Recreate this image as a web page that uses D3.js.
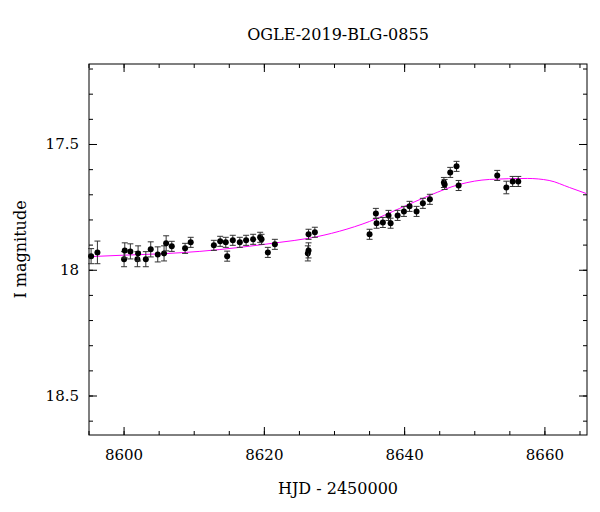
<!DOCTYPE html>
<html><head><meta charset="utf-8">
<script src="https://cdn.jsdelivr.net/npm/d3@7"></script>
<style>body{margin:0;background:#fff}text{font-family:"DejaVu Serif",serif}</style>
</head><body><div id="graph"></div>
<script>
//Observations
const hjd = [8595.3,8596.2,8600.0,8600.1,8600.9,8601.9,8602.0,8603.1,8603.8,8604.8,8605.7,8606.0,8606.8,8608.7,8609.5,8612.8,8613.7,8614.7,8614.5,8615.5,8616.5,8617.4,8618.4,8619.4,8620.5,8619.6,8621.5,8626.2,8626.3,8626.3,8627.2,8635.0,8635.9,8636.0,8636.9,8637.7,8638.0,8639.0,8639.9,8640.7,8641.7,8642.6,8643.6,8645.6,8645.7,8646.5,8647.4,8647.7,8653.2,8654.5,8655.4,8656.2];
const mag = [17.944,17.929,17.956,17.921,17.925,17.956,17.933,17.956,17.917,17.937,17.933,17.893,17.905,17.913,17.889,17.901,17.885,17.944,17.889,17.881,17.889,17.881,17.877,17.869,17.929,17.877,17.897,17.933,17.921,17.857,17.849,17.857,17.774,17.813,17.810,17.782,17.813,17.782,17.766,17.746,17.766,17.734,17.718,17.651,17.659,17.611,17.587,17.663,17.623,17.671,17.647,17.647];
const err = [0.03,0.045,0.03,0.03,0.03,0.03,0.03,0.03,0.03,0.03,0.03,0.03,0.02,0.02,0.02,0.02,0.02,0.02,0.02,0.02,0.02,0.02,0.02,0.02,0.02,0.02,0.02,0.03,0.03,0.02,0.02,0.02,0.02,0.02,0.02,0.02,0.02,0.02,0.02,0.02,0.02,0.02,0.02,0.02,0.02,0.02,0.02,0.02,0.02,0.025,0.02,0.02];
//Model curve
const modelT = [8595.0,8600.0,8605.7,8610.8,8616.5,8622.2,8626.3,8630.7,8635.0,8639.3,8643.6,8647.8,8652.1,8657.5,8660.6,8663.5,8665.9];
const modelM = [17.946,17.940,17.934,17.925,17.909,17.889,17.873,17.845,17.806,17.754,17.702,17.659,17.639,17.635,17.643,17.671,17.695];
const xTicks = [8600,8620,8640,8660];
const yTicks = [17.5,18,18.5];

const margin = {top:64, right:13, bottom:77, left:89};
const width = 600 - margin.left - margin.right;
const height = 512 - margin.top - margin.bottom;

const svg = d3.select("#graph").append("svg").attr("width",600).attr("height",512);
const g = svg.append("g").attr("transform","translate("+margin.left+","+margin.top+")");

const x = d3.scaleLinear().domain([8595,8666]).range([0,width]);
const y = d3.scaleLinear().domain([17.18,18.655]).range([0,height]);

//Ticks
function ticks(axis, scale, minor, sel) {
  sel.call(axis(scale).tickValues(d3.range(scale.domain()[0] < scale.domain()[1] ? Math.ceil(d3.min(scale.domain())/minor)*minor : 0, d3.max(scale.domain()), minor)).tickSize(4).tickFormat(""));
}
const xMinor = d3.range(8595,8667,5), yMinor = d3.range(17.2,18.66,0.1).map(v=>+v.toFixed(1));
[["bottom",height,-1],["top",0,1]].forEach(([s,ty,dir]) => {
  const a = g.append("g").attr("transform","translate(0,"+ty+")");
  a.selectAll(".mn").data(xMinor).enter().append("line").attr("x1",d=>x(d)).attr("x2",d=>x(d)).attr("y1",0).attr("y2",dir*4).attr("stroke","#000");
  a.selectAll(".mj").data(xTicks).enter().append("line").attr("x1",d=>x(d)).attr("x2",d=>x(d)).attr("y1",0).attr("y2",dir*8).attr("stroke","#000");
});
[[0,1],[width,-1]].forEach(([tx,dir]) => {
  const a = g.append("g").attr("transform","translate("+tx+",0)");
  a.selectAll(".mn").data(yMinor).enter().append("line").attr("y1",d=>y(d)).attr("y2",d=>y(d)).attr("x1",0).attr("x2",dir*4).attr("stroke","#000");
  a.selectAll(".mj").data(yTicks).enter().append("line").attr("y1",d=>y(d)).attr("y2",d=>y(d)).attr("x1",0).attr("x2",dir*8).attr("stroke","#000");
});
g.selectAll(".xl").data(xTicks).enter().append("text").attr("x",d=>x(d)).attr("y",height+25)
  .attr("text-anchor","middle").style("font-size","15px").text(d=>d);
g.selectAll(".yl").data(yTicks).enter().append("text").attr("x",-10).attr("y",d=>y(d)+5)
  .attr("text-anchor","end").style("font-size","15px").text(d=>d);

//Frame
g.append("rect").attr("width",width).attr("height",height).attr("fill","none").attr("stroke","#000");

//Labels
svg.append("text").attr("x",338).attr("y",40).attr("text-anchor","middle").style("font-size","16px").text("OGLE-2019-BLG-0855");
svg.append("text").attr("x",338).attr("y",494).attr("text-anchor","middle").style("font-size","16px").text("HJD - 2450000");
svg.append("text").attr("transform","rotate(-90)").attr("x",-(margin.top+height/2)).attr("y",26).attr("text-anchor","middle").style("font-size","16px").text("I magnitude");

//Model
const model = modelT.map((t,i)=>({t:t,m:modelM[i]}));
g.append("path").attr("fill","none").attr("stroke","#ff00ff").attr("stroke-width",1)
  .attr("d", d3.line().curve(d3.curveMonotoneX).x(d=>x(d.t)).y(d=>y(d.m))(model));

//Points
const pts = hjd.map((t,i)=>({t:t,m:mag[i],e:err[i]}));
const pg = g.append("g").selectAll("g").data(pts).enter().append("g");
pg.append("line").attr("x1",d=>x(d.t)).attr("x2",d=>x(d.t)).attr("y1",d=>y(d.m-d.e)).attr("y2",d=>y(d.m+d.e)).attr("stroke","#333");
pg.append("line").attr("x1",d=>x(d.t)-3).attr("x2",d=>x(d.t)+3).attr("y1",d=>y(d.m-d.e)).attr("y2",d=>y(d.m-d.e)).attr("stroke","#333");
pg.append("line").attr("x1",d=>x(d.t)-3).attr("x2",d=>x(d.t)+3).attr("y1",d=>y(d.m+d.e)).attr("y2",d=>y(d.m+d.e)).attr("stroke","#333");
pg.append("circle").attr("cx",d=>x(d.t)).attr("cy",d=>y(d.m)).attr("r",3).attr("fill","#000");
</script></body></html>
